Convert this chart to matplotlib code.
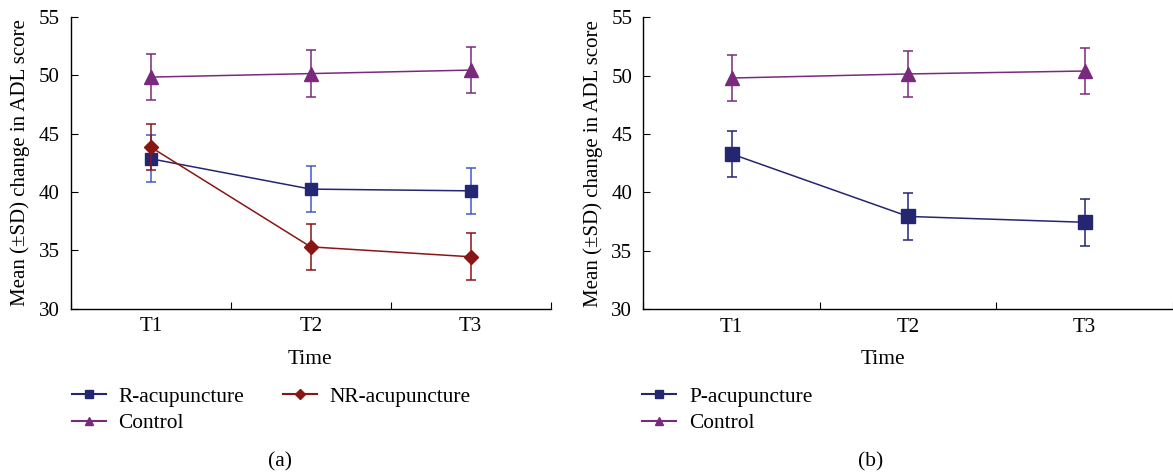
import matplotlib
matplotlib.use("Agg")
import matplotlib.pyplot as plt
from matplotlib.lines import Line2D

plt.rcParams['font.family'] = ['Liberation Serif', 'DejaVu Serif']
plt.rcParams['font.size'] = 15

times = ["T1", "T2", "T3"]

# panel (a)
r_mean = [42.85, 40.25, 40.1]
r_sd = [2.0, 2.0, 2.0]
nr_mean = [43.85, 35.3, 34.45]
nr_sd = [2.0, 2.0, 2.0]
ctrl_a_mean = [49.85, 50.15, 50.45]
ctrl_a_sd = [2.0, 2.0, 2.0]

# panel (b)
p_mean = [43.3, 37.95, 37.45]
p_sd = [2.0, 2.0, 2.0]
ctrl_b_mean = [49.8, 50.15, 50.4]
ctrl_b_sd = [2.0, 2.0, 2.0]

NAVY = "#252672"
BLUE_ERR = "#3d5cc4"
DARKRED = "#8a1515"
PURPLE = "#7a2a7c"

W, H = 1173, 475
fig = plt.figure(figsize=(W / 100, H / 100), dpi=100)


def px_axes(x0, x1, ytop, ybot):
    return fig.add_axes([x0 / W, (H - ybot) / H, (x1 - x0) / W, (ybot - ytop) / H])


def style(ax):
    ax.set_xlim(0, 3)
    ax.set_ylim(30, 55)
    ax.set_yticks(range(30, 56, 5))
    ax.set_xticks([0, 1, 2, 3])
    ax.set_xticklabels([])
    ax.set_xticks([0.5, 1.5, 2.5], minor=True)
    ax.set_xticklabels(times, minor=True)
    ax.tick_params(axis="x", which="major", direction="in", length=5)
    ax.tick_params(axis="x", which="minor", length=0, pad=6, labelsize=15)
    ax.tick_params(axis="y", direction="in", length=5, pad=8, labelsize=15)
    for s in ["top", "right"]:
        ax.spines[s].set_visible(False)
    for s in ["left", "bottom"]:
        ax.spines[s].set_linewidth(1.0)


def series(ax, y, sd, color, ecolor, marker, ms, z):
    xs = [0.5, 1.5, 2.5]
    ax.errorbar(xs, y, yerr=sd, color=color, ecolor=ecolor, elinewidth=1.1,
                capsize=3.5, capthick=1.1, marker=marker, markersize=ms,
                markeredgecolor=color, lw=1.1, zorder=z, clip_on=False)


LEG = dict(frameon=False, fontsize=15.4, handlelength=1.6, handletextpad=0.6,
           labelspacing=0.3, borderpad=0, borderaxespad=0)

# panel (a)
ax1 = px_axes(70.7, 550.7, 17, 308.7)
style(ax1)
series(ax1, r_mean, r_sd, NAVY, BLUE_ERR, "s", 9, 3)
series(ax1, nr_mean, nr_sd, DARKRED, DARKRED, "D", 7, 4)
series(ax1, ctrl_a_mean, ctrl_a_sd, PURPLE, PURPLE, "^", 9.5, 5)
ax1.set_ylabel("Mean (±SD) change in ADL score", fontsize=15, labelpad=6)
fig.text(310 / W, 1 - 359 / H, "Time", ha="center", va="center", fontsize=15.4)
fig.text(280 / W, 1 - 462 / H, "(a)", ha="center", va="center", fontsize=15.4)

h_r = Line2D([], [], color=NAVY, marker="s", markersize=6)
h_nr = Line2D([], [], color=DARKRED, marker="D", markersize=5)
h_ca = Line2D([], [], color=PURPLE, marker="^", markersize=6)
fig.legend([h_r, h_ca, h_nr], ["R-acupuncture", "Control", "NR-acupuncture"],
           loc="upper left", bbox_to_anchor=(71.5 / W, 1 - 387 / H), ncol=2,
           columnspacing=1.8, **LEG)

# panel (b)
ax2 = px_axes(643.4, 1173, 17.3, 309.3)
style(ax2)
series(ax2, p_mean, p_sd, NAVY, NAVY, "s", 10.5, 3)
series(ax2, ctrl_b_mean, ctrl_b_sd, PURPLE, PURPLE, "^", 10, 5)
ax2.set_ylabel("Mean (±SD) change in ADL score", fontsize=15, labelpad=6)
fig.text(883 / W, 1 - 359 / H, "Time", ha="center", va="center", fontsize=15.4)
fig.text(871 / W, 1 - 462 / H, "(b)", ha="center", va="center", fontsize=15.4)

h_p = Line2D([], [], color=NAVY, marker="s", markersize=6)
h_cb = Line2D([], [], color=PURPLE, marker="^", markersize=6)
fig.legend([h_p, h_cb], ["P-acupuncture", "Control"],
           loc="upper left", bbox_to_anchor=(642 / W, 1 - 387 / H), ncol=1,
           **LEG)

fig.savefig("out.png", dpi=100)
